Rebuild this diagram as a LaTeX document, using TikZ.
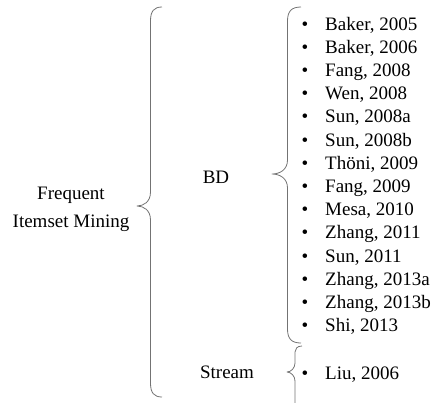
\documentclass[tikz,border=0pt]{standalone}
\usepackage{fontspec}
\setmainfont{Liberation Serif}
\begin{document}
\begin{tikzpicture}[x=1pt,y=-1pt,
  lbl/.style={inner sep=0pt,anchor=base,font=\fontsize{19}{22}\selectfont},
  item/.style={inner sep=0pt,anchor=base west,font=\fontsize{19}{22}\selectfont},
  dot/.style={inner sep=0pt,anchor=base,font=\fontsize{19}{22}\selectfont},
  brace/.style={draw=black!55,line width=0.8pt,line join=round}]
\useasboundingbox (0,0) rectangle (433,402);

% left brace: end x, line x, tip x, top y, tip y, bottom y, bend
\newcommand{\curlybrace}[7]{%
  \draw[brace] (#1,#4) .. controls ({#2+0.3*(#1-#2)},#4) and (#2,{#4+0.3*#7}) .. (#2,{#4+#7})
    -- (#2,{#5-#7}) .. controls (#2,{#5-0.3*#7}) and ({#3+0.5*(#2-#3)},#5) .. (#3,#5)
    .. controls ({#3+0.5*(#2-#3)},#5) and (#2,{#5+0.3*#7}) .. (#2,{#5+#7})
    -- (#2,{#6-#7}) .. controls (#2,{#6-0.3*#7}) and ({#2+0.3*(#1-#2)},#6) .. (#1,#6);}

% top level
\node[lbl] (fim1) at (71,199) {Frequent};
\node[lbl] (fim2) at (71,227) {Itemset Mining};
\curlybrace{162}{150.5}{137}{7}{206}{397}{14}

% categories
\node[lbl] (bd) at (216,183) {BD};
\node[lbl] (stream) at (227,378) {Stream};
\curlybrace{301}{287.5}{272}{7}{174}{343}{14}

% stream brace runs off the lower edge
\begin{scope}
\clip (0,0) rectangle (433,402);
\draw[brace] (302,346) .. controls (297,346) and (295,349) .. (295,352)
  -- (295,363) .. controls (295,368) and (291,372) .. (287,372)
  .. controls (291,372) and (295,376) .. (295,381) -- (295,410);
\end{scope}

% references
\foreach \name/\txt [count=\i from 0] in {
  b05/{Baker, 2005}, b06/{Baker, 2006}, f08/{Fang, 2008}, w08/{Wen, 2008},
  s08a/{Sun, 2008a}, s08b/{Sun, 2008b}, t09/{Thöni, 2009}, f09/{Fang, 2009},
  m10/{Mesa, 2010}, z11/{Zhang, 2011}, s11/{Sun, 2011}, z13a/{Zhang, 2013a},
  z13b/{Zhang, 2013b}, s13/{Shi, 2013}}{
  \node[dot] (\name-dot) at (305,{30+23.2*\i}) {\textbullet};
  \node[item] (\name) at (325,{30+23.2*\i}) {\txt};
}
\node[dot] (l06-dot) at (305,379) {\textbullet};
\node[item] (l06) at (325,379) {Liu, 2006};
\end{tikzpicture}
\end{document}
